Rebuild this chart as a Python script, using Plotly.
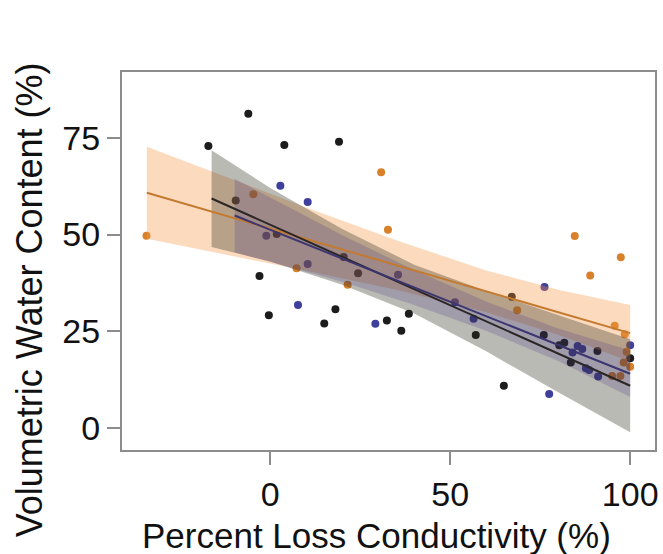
import plotly.graph_objects as go

# ---- point data ----
black_x = [-17.2, -6.1, 3.9, 19.1, -3.0, -0.4, 15.0, 18.1, 32.4, 38.5, 36.4, 57.1, 64.9, 67.1,
           76.0, 80.3, 81.7, 83.5, 90.9, 100.0, -9.6, 1.8, 20.4, 24.4]
black_y = [72.9, 81.2, 73.1, 74.0, 39.3, 29.1, 27.0, 30.7, 27.8, 29.5, 25.1, 24.0, 10.9, 33.9,
           24.0, 21.4, 22.0, 16.9, 19.9, 18.0, 58.8, 50.1, 44.2, 40.0]

blue_x = [2.8, 10.4, 7.7, 29.2, 35.5, 51.3, 56.5, 76.2, 77.5, 84.0, 85.4, 86.7, 87.7, 88.6,
          91.1, 100.0, 10.4, -1.1]
blue_y = [62.6, 58.4, 31.8, 26.9, 39.6, 32.5, 28.2, 36.4, 8.8, 19.5, 21.2, 20.4, 15.4, 15.0,
          13.3, 21.4, 42.4, 49.7]

orange_x = [-34.4, 30.8, 32.7, 84.6, 97.4, 88.9, 95.7, 98.5, 99.0, 98.2, 100.0, 95.0, 97.3,
            21.5, 68.6, -4.7, 7.3]
orange_y = [49.7, 66.1, 51.2, 49.6, 44.1, 39.4, 26.4, 24.2, 19.7, 16.9, 15.8, 13.4, 13.4,
            37.0, 30.4, 60.4, 41.3]

# ---- fitted lines and confidence bands ----
orange_band_x = [-34.3, -10, 10, 35, 60, 80, 100]
orange_fit = [60.8, 54.2, 48.8, 42.1, 35.3, 29.9, 24.5]
orange_upper = [72.7, 64.0, 57.0, 48.5, 40.7, 35.7, 31.8]
orange_lower = [48.9, 44.4, 40.6, 35.7, 29.9, 24.1, 17.2]

black_band_x = [-16.3, 0, 20, 40, 60, 80, 100]
black_fit = [59.3, 52.5, 44.2, 35.9, 27.6, 19.2, 10.9]
black_upper = [71.8, 62.0, 51.4, 42.2, 35.4, 29.2, 22.9]
black_lower = [46.8, 43.0, 37.0, 29.6, 19.8, 9.2, -1.1]

blue_band_x = [-9.9, 0, 20, 40, 60, 80, 100]
blue_fit = [54.9, 51.2, 43.8, 36.3, 28.9, 21.5, 14.0]
blue_upper = [64.4, 59.5, 49.8, 40.8, 32.7, 25.7, 20.0]
blue_lower = [45.4, 42.9, 37.8, 31.8, 25.1, 17.3, 8.0]

x_ticks = [0, 50, 100]
y_ticks = [0, 25, 50, 75]

FONT = "Liberation Sans, Arial, sans-serif"
AXIS_GRAY = "#8c8c8c"

fig = go.Figure()

groups = [
    (black_x, black_y, "#1c1c1c"),
    (blue_x, blue_y, "#3f3f9c"),
    (orange_x, orange_y, "#d9812a"),
]
for gx, gy, col in groups:
    fig.add_trace(go.Scatter(x=gx, y=gy, mode="markers",
                             marker=dict(size=8, color=col, line=dict(width=0)),
                             showlegend=False, hoverinfo="skip"))

bands = [
    (orange_band_x, orange_upper, orange_lower, "rgba(245,150,70,0.35)"),
    (black_band_x, black_upper, black_lower, "rgba(45,45,30,0.33)"),
    (blue_band_x, blue_upper, blue_lower, "rgba(70,50,130,0.22)"),
]
for bx, up, lo, fc in bands:
    fig.add_trace(go.Scatter(x=list(bx) + list(bx)[::-1], y=list(up) + list(lo)[::-1],
                             fill="toself", fillcolor=fc, mode="lines",
                             line=dict(width=0), showlegend=False, hoverinfo="skip"))

lines = [
    (orange_band_x, orange_fit, "#c47a30"),
    (black_band_x, black_fit, "#2a2626"),
    (blue_band_x, blue_fit, "#3b3570"),
]
for lx, ly, lc in lines:
    fig.add_trace(go.Scatter(x=lx, y=ly, mode="lines", line=dict(width=2, color=lc),
                             showlegend=False, hoverinfo="skip"))

axis_common = dict(showgrid=False, zeroline=False, showline=True, linecolor=AXIS_GRAY,
                   linewidth=2, mirror=True, ticks="outside", ticklen=13, tickwidth=2,
                   tickcolor=AXIS_GRAY, tickfont=dict(family=FONT, size=34, color="#111"))

fig.update_layout(
    width=663, height=554,
    margin=dict(l=122, r=5, t=72, b=104),
    paper_bgcolor="white", plot_bgcolor="white",
    xaxis=dict(range=[-41.2, 106.9], tickvals=x_ticks, **axis_common),
    yaxis=dict(range=[-5.7, 92], tickvals=y_ticks, **axis_common),
    annotations=[
        dict(text="Percent Loss Conductivity (%)", xref="paper", yref="paper",
             x=0.4776, y=-0.226, xanchor="center", yanchor="middle", showarrow=False,
             font=dict(family=FONT, size=35, color="#111")),
        dict(text="Volumetric Water Content (%)", xref="paper", yref="paper",
             x=-0.172, y=0.397, xanchor="center", yanchor="middle", showarrow=False,
             textangle=-90, font=dict(family=FONT, size=36, color="#111")),
    ],
)

fig.write_html("out.html")
